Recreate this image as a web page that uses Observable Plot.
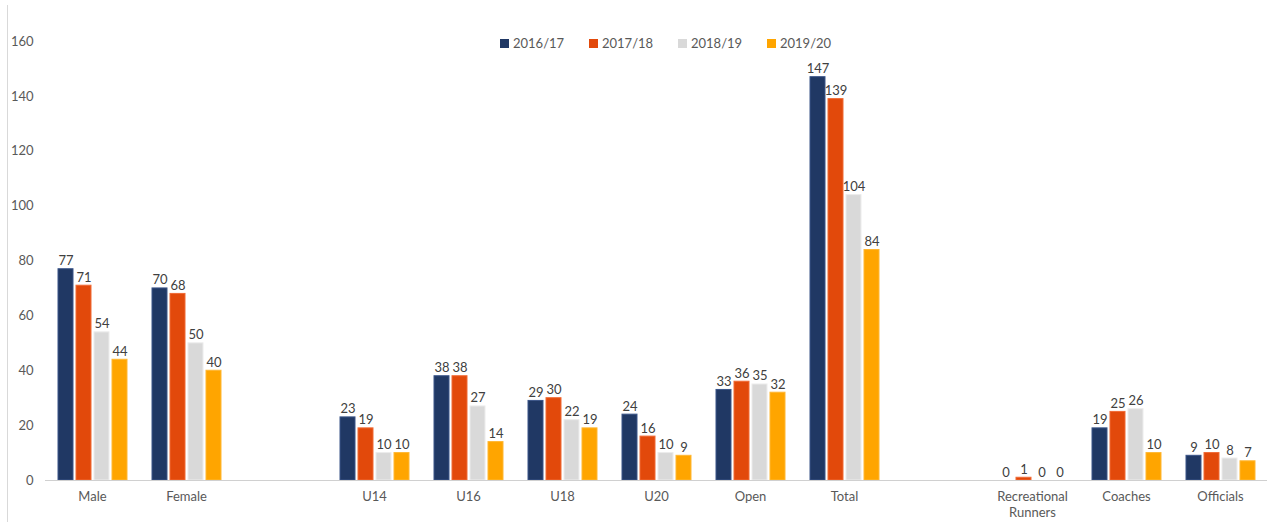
<!DOCTYPE html>
<html>
<head>
<meta charset="utf-8">
<script src="https://cdn.jsdelivr.net/npm/d3@7"></script>
<script src="https://cdn.jsdelivr.net/npm/@observablehq/plot@0.6"></script>
<style>
  body { margin: 0; background: #fff; font-family: Lato, "Open Sans", sans-serif; }
  #wrap { position: relative; width: 1277px; height: 522px; overflow: hidden; }
  #edge { position: absolute; left: 7px; top: 5px; width: 0; height: 517px; border-left: 1px solid #d9d9d9; }
  #legend { position: absolute; top: 35px; left: 500px; display: flex; font-size: 13px; color: #595959; z-index: 2; }
  #legend .item { display: flex; align-items: center; width: 89px; }
  #legend .sw { width: 9px; height: 9px; margin-right: 4px; }
  svg { position: absolute; left: 0; top: 0; }
</style>
</head>
<body>
<div id="wrap"><div id="edge"></div><div id="legend"></div></div>
<script>
const categories = ["Male", "Female", "gap1", "U14", "U16", "U18", "U20", "Open", "Total", "gap2", "Recreational Runners", "Coaches", "Officials"];
const seasons = ["2016/17", "2017/18", "2018/19", "2019/20"];
const v2016_17 = [77, 70, null, 23, 38, 29, 24, 33, 147, null, 0, 19, 9];
const v2017_18 = [71, 68, null, 19, 38, 30, 16, 36, 139, null, 1, 25, 10];
const v2018_19 = [54, 50, null, 10, 27, 22, 10, 35, 104, null, 0, 26, 8];
const v2019_20 = [44, 40, null, 10, 14, 19, 9, 32, 84, null, 0, 10, 7];
const seasonColors = ["#203864", "#E2490B", "#D9D9D9", "#FFA500"];
const seasonStrokes = ["#3a5488", "#f06a35", "#ececec", "#ffb733"];
const yTicks = [0, 20, 40, 60, 80, 100, 120, 140, 160];

const seriesValues = [v2016_17, v2017_18, v2018_19, v2019_20];
const rows = [];
categories.forEach((c, i) => {
  seasons.forEach((s, j) => {
    const v = seriesValues[j][i];
    if (v != null) rows.push({cat: c, season: s, value: v});
  });
});
const baseRows = categories.map(c => ({cat: c}));

const chart = Plot.plot({
  width: 1277,
  height: 522,
  marginTop: 41,
  marginBottom: 42,
  marginLeft: 45,
  marginRight: 10,
  style: {fontFamily: "Lato, 'Open Sans', sans-serif", fontSize: "13px", color: "#595959", background: "transparent"},
  fx: {domain: categories, padding: 0, label: null},
  x: {domain: seasons, paddingInner: 0.18, paddingOuter: 0.66, axis: null},
  y: {domain: [0, 160], label: null},
  color: {domain: seasons, range: seasonColors},
  marks: [
    Plot.axisY({facetAnchor: "left", ticks: yTicks, tickSize: 0, tickPadding: 12, label: null}),
    Plot.axisFx({anchor: "bottom", tickSize: 0, tickPadding: 8, lineHeight: 1.3, label: null,
      tickFormat: d => d.startsWith("gap") ? "" : d.replace(" ", "\n")}),
    Plot.barY(rows, {fx: "cat", x: "season", y: "value", fill: "season",
      stroke: d => seasonStrokes[seasons.indexOf(d.season)], strokeWidth: 1}),
    Plot.ruleY(baseRows, {fx: "cat", y: () => 0, stroke: "#d0d0d0", strokeWidth: 1.2}),
    Plot.text(rows, {fx: "cat", x: "season", y: "value", text: d => String(d.value),
      lineAnchor: "bottom", dy: -4, fill: "#404040", fontSize: 13})
  ]
});
document.getElementById("wrap").appendChild(chart);

const legend = document.getElementById("legend");
seasons.forEach((s, j) => {
  const item = document.createElement("div");
  item.className = "item";
  const sw = document.createElement("div");
  sw.className = "sw";
  sw.style.background = seasonColors[j];
  const t = document.createElement("span");
  t.textContent = s;
  item.appendChild(sw);
  item.appendChild(t);
  legend.appendChild(item);
});
</script>
</body>
</html>
